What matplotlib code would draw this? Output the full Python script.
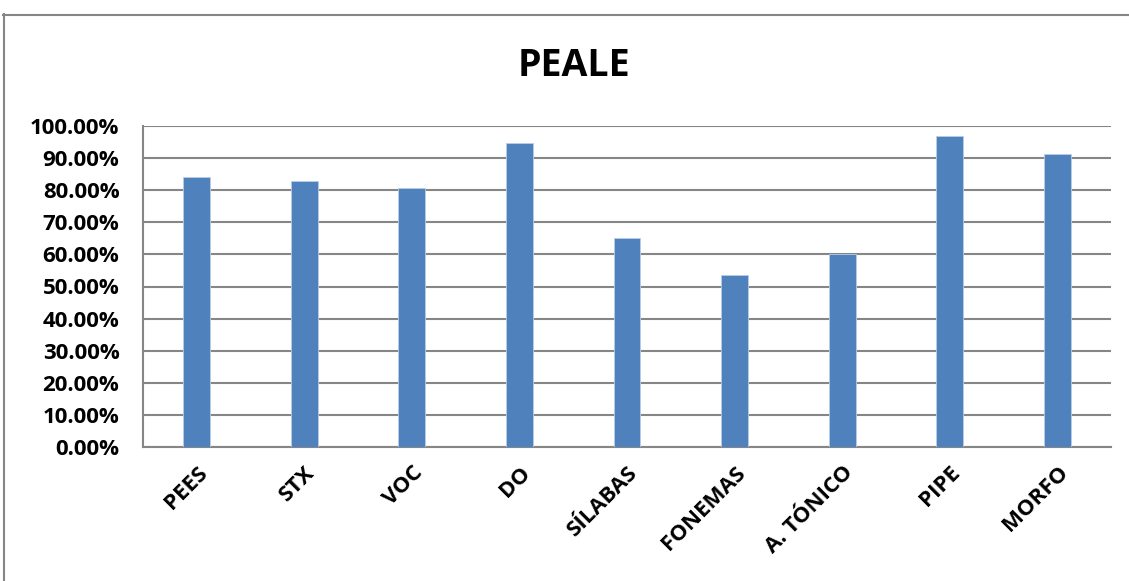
import matplotlib.pyplot as plt
from matplotlib.lines import Line2D
from matplotlib.ticker import FuncFormatter

categories = ["PEES", "STX", "VOC", "DO", "SÍLABAS", "FONEMAS", "A. TÓNICO", "PIPE", "MORFO"]
percentages = [84.2, 82.9, 80.6, 94.8, 65.1, 53.6, 60.2, 96.9, 91.2]
y_ticks = [0, 10, 20, 30, 40, 50, 60, 70, 80, 90, 100]

plt.rcParams['font.family'] = ['Open Sans', 'DejaVu Sans']

W, H = 1129, 581
fig = plt.figure(figsize=(W / 100, H / 100), dpi=100)
ax = fig.add_axes([143 / W, 1 - 447 / H, (1111 - 143) / W, (447 - 126) / H])

x = range(len(categories))
ax.bar(x, percentages, width=0.25, color="#4F81BD", edgecolor="#B9CDE5", linewidth=0.6, zorder=3)

ax.set_xlim(-0.5, len(categories) - 0.5)
ax.set_ylim(0, 100)
ax.set_yticks(y_ticks)
ax.yaxis.set_major_formatter(FuncFormatter(lambda v, p: f"{v:.2f}%"))
ax.yaxis.grid(True, color="#868686", linewidth=1.5, zorder=0)
ax.set_axisbelow(True)

ax.set_xticks(list(x))
ax.set_xticklabels(categories, rotation=45, ha="right", rotation_mode="anchor")
for lbl in ax.get_xticklabels():
    lbl.set_fontweight("bold")
    lbl.set_fontsize(16)
for lbl in ax.get_yticklabels():
    lbl.set_fontweight("bold")
    lbl.set_fontsize(16)

ax.tick_params(axis="x", length=0, pad=11)
ax.tick_params(axis="y", length=0, pad=17)
for side in ["top", "right"]:
    ax.spines[side].set_visible(False)
for side in ["left", "bottom"]:
    ax.spines[side].set_color("#868686")
    ax.spines[side].set_linewidth(1.5)

fig.text(574 / W, 1 - 66 / H, "PEALE", ha="center", va="center",
         fontsize=27, fontweight="bold")

# chart frame
fig.add_artist(Line2D([3.5 / W, 3.5 / W], [0, 1 - 14 / H], transform=fig.transFigure,
                      color="#868686", linewidth=1.5))
fig.add_artist(Line2D([3 / W, 1], [1 - 14.5 / H, 1 - 14.5 / H], transform=fig.transFigure,
                      color="#868686", linewidth=1.5))

fig.savefig("out.png", dpi=100)
